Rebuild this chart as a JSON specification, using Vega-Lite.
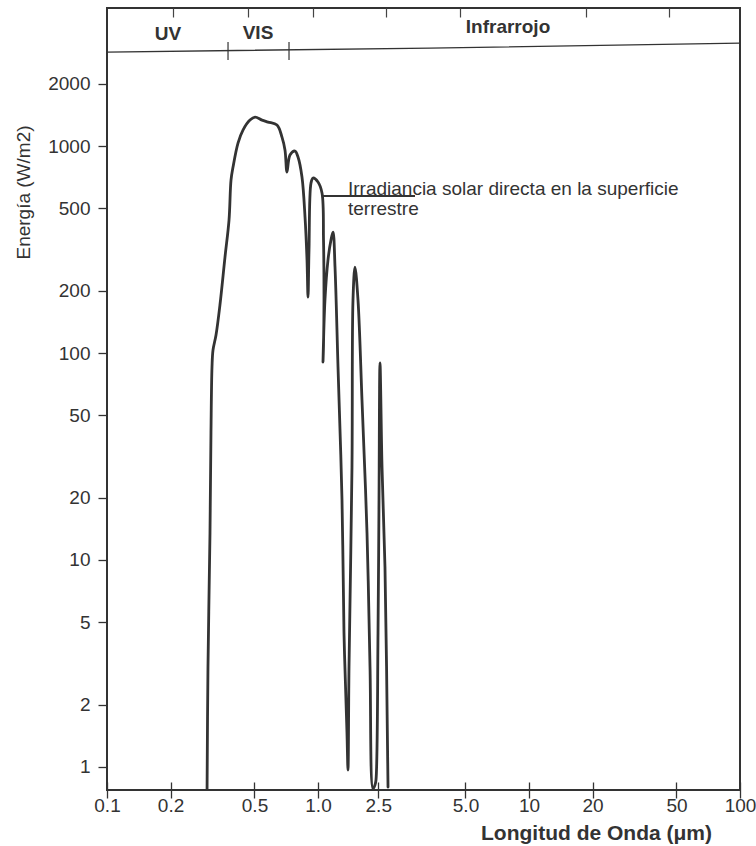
{
  "$schema": "https://vega.github.io/schema/vega-lite/v6.json",
  "width": 633,
  "height": 782,
  "autosize": {"type": "none"},
  "padding": {"left": 107, "top": 8, "right": 16, "bottom": 56},
  "background": "white",
  "config": {
    "view": {"stroke": "#333333", "strokeWidth": 2},
    "font": "Liberation Sans"
  },
  "resolve": {"axis": {"x": "independent", "y": "independent"}},
  "datasets": {
    "curve": [
      {"lambda": 0.298, "E": 0.774, "order": 1},
      {"lambda": 0.301, "E": 3.04, "order": 2},
      {"lambda": 0.3077, "E": 13.5, "order": 3},
      {"lambda": 0.311, "E": 41.1, "order": 4},
      {"lambda": 0.3145, "E": 85.6, "order": 5},
      {"lambda": 0.318, "E": 103.4, "order": 6},
      {"lambda": 0.3286, "E": 122.2, "order": 7},
      {"lambda": 0.343, "E": 170.6, "order": 8},
      {"lambda": 0.3624, "E": 290.9, "order": 9},
      {"lambda": 0.3787, "E": 439.1, "order": 10},
      {"lambda": 0.387, "E": 685, "order": 11},
      {"lambda": 0.3956, "E": 791.8, "order": 12},
      {"lambda": 0.4177, "E": 1034, "order": 13},
      {"lambda": 0.441, "E": 1195, "order": 14},
      {"lambda": 0.476, "E": 1335, "order": 15},
      {"lambda": 0.5029, "E": 1380, "order": 16},
      {"lambda": 0.5428, "E": 1335, "order": 17},
      {"lambda": 0.5794, "E": 1306, "order": 18},
      {"lambda": 0.6393, "E": 1263, "order": 19},
      {"lambda": 0.675, "E": 1105, "order": 20},
      {"lambda": 0.6975, "E": 956.5, "order": 21},
      {"lambda": 0.7129, "E": 748.8, "order": 22},
      {"lambda": 0.7366, "E": 904.6, "order": 23},
      {"lambda": 0.778, "E": 945.9, "order": 24},
      {"lambda": 0.804, "E": 885, "order": 25},
      {"lambda": 0.8396, "E": 708.2, "order": 26},
      {"lambda": 0.868, "E": 453.9, "order": 27},
      {"lambda": 0.887, "E": 281.3, "order": 28},
      {"lambda": 0.8967, "E": 186.4, "order": 29},
      {"lambda": 0.9065, "E": 314.5, "order": 30},
      {"lambda": 0.9265, "E": 662.5, "order": 31},
      {"lambda": 0.947, "E": 700.4, "order": 32},
      {"lambda": 1.0, "E": 670, "order": 33},
      {"lambda": 1.0447, "E": 592.9, "order": 34},
      {"lambda": 1.062, "E": 351.5, "order": 35},
      {"lambda": 1.0676, "E": 180.3, "order": 36},
      {"lambda": 1.062, "E": 109.3, "order": 37},
      {"lambda": 1.056, "E": 90.5, "order": 38},
      {"lambda": 1.079, "E": 180.3, "order": 39},
      {"lambda": 1.115, "E": 281.3, "order": 40},
      {"lambda": 1.152, "E": 351.5, "order": 41},
      {"lambda": 1.178, "E": 384.2, "order": 42},
      {"lambda": 1.204, "E": 260.3, "order": 43},
      {"lambda": 1.244, "E": 85.6, "order": 44},
      {"lambda": 1.2994, "E": 19.5, "order": 45},
      {"lambda": 1.328, "E": 4.44, "order": 46},
      {"lambda": 1.372, "E": 1.46, "order": 47},
      {"lambda": 1.3871, "E": 0.967, "order": 48},
      {"lambda": 1.4026, "E": 3.04, "order": 49},
      {"lambda": 1.449, "E": 28.1, "order": 50},
      {"lambda": 1.465, "E": 180.3, "order": 51},
      {"lambda": 1.497, "E": 260.3, "order": 52},
      {"lambda": 1.5474, "E": 180.3, "order": 53},
      {"lambda": 1.6161, "E": 59.3, "order": 54},
      {"lambda": 1.7072, "E": 13.5, "order": 55},
      {"lambda": 1.764, "E": 3.04, "order": 56},
      {"lambda": 1.823, "E": 0.783, "order": 57},
      {"lambda": 1.863, "E": 0.819, "order": 58},
      {"lambda": 1.883, "E": 0.865, "order": 59},
      {"lambda": 1.925, "E": 4.44, "order": 60},
      {"lambda": 1.946, "E": 19.5, "order": 61},
      {"lambda": 1.967, "E": 89.5, "order": 62},
      {"lambda": 2.011, "E": 28.1, "order": 63},
      {"lambda": 2.077, "E": 9.25, "order": 64},
      {"lambda": 2.147, "E": 0.8, "order": 65}
    ],
    "band": [
      {"lambda": 0.1, "E": 2845},
      {"lambda": 3.395, "E": 2974},
      {"lambda": 100, "E": 3145}
    ],
    "bandTicks": [
      {"lambda": 0.3746, "E1": 2603, "E2": 3180},
      {"lambda": 0.7288, "E1": 2603, "E2": 3180}
    ],
    "bandLabels": [
      {"lambda": 0.1945, "E": 3252, "label": "UV"},
      {"lambda": 0.5195, "E": 3288, "label": "VIS"},
      {"lambda": 7.953, "E": 3515, "label": "Infrarrojo"}
    ],
    "leader": [
      {"lambda": 1.0447, "lambda2": 2.882, "E": 573.5}
    ],
    "note": [
      {"lambda": 1.387, "E": 580, "label": "Irradiancia solar directa en la superficie\nterrestre"}
    ]
  },
  "layer": [
    {
      "data": {"name": "curve"},
      "mark": {"type": "line", "color": "#333333", "strokeWidth": 2.8, "strokeJoin": "round", "strokeCap": "round", "interpolate": "catmull-rom", "clip": true},
      "encoding": {
        "x": {
          "field": "lambda", "type": "quantitative",
          "scale": {"type": "log", "domain": [0.1, 100], "nice": false, "zero": false},
          "axis": {
            "orient": "bottom",
            "offset": -8,
            "values": [0.1, 0.2, 0.5, 1, 1.93, 5, 10, 20, 50, 100],
            "labelExpr": "datum.value < 0.15 ? '0.1' : datum.value < 0.3 ? '0.2' : datum.value < 0.7 ? '0.5' : datum.value < 1.5 ? '1.0' : datum.value < 3 ? '2.5' : datum.value < 7 ? '5.0' : datum.value < 15 ? '10' : datum.value < 30 ? '20' : datum.value < 70 ? '50' : '100'",
            "domain": false,
            "grid": false,
            "tickSize": 16,
            "tickColor": "#333333",
            "tickWidth": 1.3,
            "labelPadding": -2,
            "labelFontSize": 19,
            "labelColor": "#333333",
            "labelFlush": false,
            "labelOverlap": false,
            "title": "Longitud de Onda (μm)",
            "titleFontSize": 21,
            "titleFontWeight": "bold",
            "titleColor": "#333333",
            "titleX": 489,
            "titleY": 57,
            "titleAlign": "center",
            "titleBaseline": "alphabetic",
            "zindex": 1
          }
        },
        "y": {
          "field": "E", "type": "quantitative",
          "scale": {"type": "log", "domain": [0.774, 4645], "nice": false, "zero": false},
          "axis": {
            "orient": "left",
            "values": [1, 2, 5, 10, 20, 50, 100, 200, 500, 1000, 2000],
            "format": "d",
            "domain": false,
            "grid": false,
            "tickSize": 9,
            "tickColor": "#333333",
            "tickWidth": 1.3,
            "labelPadding": 8,
            "labelFontSize": 19,
            "labelColor": "#333333",
            "labelOverlap": false,
            "labelFlush": false,
            "title": "Energía (W/m2)",
            "titleFontSize": 19,
            "titleFontWeight": "normal",
            "titleColor": "#333333",
            "titleAngle": -90,
            "titleX": -84,
            "titleY": 184,
            "titleAlign": "center",
            "titleBaseline": "middle",
            "zindex": 1
          }
        },
        "order": {"field": "order", "type": "quantitative"}
      }
    },
    {
      "data": {"name": "band"},
      "mark": {"type": "line", "color": "#333333", "strokeWidth": 1.3},
      "encoding": {
        "x": {
          "field": "lambda", "type": "quantitative",
          "axis": {
            "orient": "top",
            "offset": -9,
            "values": [0.2055, 0.466, 0.947, 2.1, 4.71, 18.6, 46.1],
            "labels": false,
            "domain": false,
            "grid": false,
            "tickSize": 9,
            "tickColor": "#444444",
            "tickWidth": 1.2,
            "title": null,
            "zindex": 1
          }
        },
        "y": {"field": "E", "type": "quantitative", "axis": null}
      }
    },
    {
      "data": {"name": "bandTicks"},
      "mark": {"type": "rule", "color": "#333333", "strokeWidth": 1.2},
      "encoding": {
        "x": {"field": "lambda", "type": "quantitative", "axis": null},
        "y": {"field": "E1", "type": "quantitative", "axis": null},
        "y2": {"field": "E2"}
      }
    },
    {
      "data": {"name": "bandLabels"},
      "mark": {"type": "text", "fontSize": 19, "fontWeight": "bold", "color": "#333333", "align": "center", "baseline": "alphabetic"},
      "encoding": {
        "x": {"field": "lambda", "type": "quantitative", "axis": null},
        "y": {"field": "E", "type": "quantitative", "axis": null},
        "text": {"field": "label"}
      }
    },
    {
      "data": {"name": "leader"},
      "mark": {"type": "rule", "color": "#333333", "strokeWidth": 2},
      "encoding": {
        "x": {"field": "lambda", "type": "quantitative", "axis": null},
        "x2": {"field": "lambda2"},
        "y": {"field": "E", "type": "quantitative", "axis": null}
      }
    },
    {
      "data": {"name": "note"},
      "mark": {"type": "text", "fontSize": 19, "color": "#333333", "align": "left", "baseline": "alphabetic", "lineBreak": "\n", "lineHeight": 20},
      "encoding": {
        "x": {"field": "lambda", "type": "quantitative", "axis": null},
        "y": {"field": "E", "type": "quantitative", "axis": null},
        "text": {"field": "label"}
      }
    }
  ]
}
